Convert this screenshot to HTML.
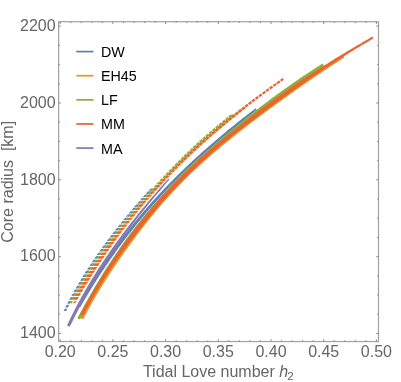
<!DOCTYPE html>
<html><head><meta charset="utf-8"><title>plot</title>
<style>html,body{margin:0;padding:0;background:#fff}svg{display:block;will-change:transform}text{font-family:"Liberation Sans",sans-serif}</style>
</head><body>
<svg width="401" height="382" viewBox="0 0 401 382">
<rect x="0" y="0" width="401" height="382" fill="#ffffff"/>
<path d="M63.46 311.12L63.54 310.95L64.06 309.91L64.58 308.88L64.62 308.80L67.27 308.65L67.15 308.89L66.63 309.92L66.11 310.96L66.10 310.98ZM65.24 307.57L65.31 307.43L65.84 306.39L66.37 305.36L66.60 304.91L69.27 304.77L69.04 305.20L68.51 306.22L67.98 307.25L67.89 307.42ZM67.23 303.69L67.33 303.51L67.87 302.48L68.41 301.45L68.62 301.05L71.31 300.90L71.09 301.31L70.55 302.33L70.01 303.35L69.91 303.54ZM69.27 299.84L69.28 299.82L69.83 298.80L70.38 297.78L70.69 297.21L73.40 297.05L73.18 297.46L72.62 298.47L72.07 299.49L71.97 299.69ZM71.35 296.00L71.38 295.95L71.94 294.93L72.50 293.92L72.80 293.39L75.53 293.23L75.19 293.83L74.63 294.84L74.07 295.84L74.06 295.85ZM73.47 292.19L73.52 292.10L74.10 291.09L74.67 290.08L74.95 289.58L77.70 289.42L77.36 290.01L76.78 291.01L76.21 292.02L76.21 292.03ZM75.64 288.39L75.71 288.27L76.29 287.26L76.88 286.26L77.15 285.79L79.91 285.63L79.57 286.21L78.99 287.21L78.40 288.21L78.39 288.22ZM77.85 284.60L77.94 284.45L78.53 283.45L79.13 282.45L79.38 282.03L82.17 281.86L81.82 282.43L81.22 283.42L80.63 284.42L80.62 284.44ZM80.09 280.84L80.20 280.66L80.81 279.66L81.41 278.67L81.65 278.28L84.46 278.11L84.11 278.67L83.50 279.66L82.90 280.65L82.88 280.67ZM82.37 277.11L82.39 277.09L83.00 276.10L83.61 275.11L83.96 274.55L86.79 274.38L86.43 274.94L85.82 275.92L85.20 276.90L85.19 276.93ZM84.69 273.39L84.72 273.34L85.34 272.35L85.97 271.37L86.30 270.85L89.15 270.67L88.79 271.23L88.17 272.20L87.54 273.18L87.52 273.21ZM87.04 269.69L87.10 269.61L87.73 268.63L88.36 267.66L88.68 267.17L91.55 266.98L91.18 267.54L90.55 268.51L89.92 269.48L89.90 269.51ZM89.43 266.01L89.50 265.90L90.14 264.93L90.78 263.96L91.09 263.50L93.98 263.32L93.61 263.87L92.97 264.83L92.33 265.80L92.31 265.83ZM91.85 262.36L91.94 262.22L92.59 261.26L93.24 260.29L93.53 259.86L96.44 259.67L96.07 260.23L95.42 261.18L94.77 262.14L94.75 262.17ZM94.30 258.73L94.42 258.56L95.07 257.61L95.73 256.65L96.01 256.24L98.94 256.05L98.55 256.60L97.90 257.55L97.24 258.51L97.22 258.53ZM96.79 255.12L96.92 254.93L97.58 253.98L98.25 253.03L98.51 252.65L101.47 252.45L101.07 253.01L100.41 253.95L99.74 254.90L99.73 254.92ZM99.30 251.53L99.31 251.51L99.98 250.56L100.66 249.62L101.05 249.07L104.02 248.87L103.62 249.43L102.94 250.37L102.27 251.31L102.26 251.33ZM101.84 247.96L101.87 247.92L102.55 246.98L103.23 246.04L103.61 245.52L106.61 245.31L106.19 245.88L105.51 246.81L104.83 247.75L104.83 247.75ZM104.42 244.41L104.46 244.35L105.15 243.41L105.83 242.48L106.20 241.99L109.22 241.78L108.80 242.34L108.11 243.27L107.42 244.20L107.42 244.20ZM107.01 240.89L107.08 240.80L107.77 239.87L108.47 238.94L108.82 238.48L111.86 238.26L111.57 238.65L110.87 239.57L110.18 240.49L110.04 240.68ZM109.64 237.38L109.72 237.28L110.42 236.35L111.12 235.43L111.46 234.99L114.52 234.77L114.23 235.16L113.52 236.07L112.82 236.99L112.69 237.17ZM112.29 233.90L112.39 233.77L113.10 232.85L113.80 231.94L114.13 231.52L117.21 231.30L116.91 231.69L116.20 232.60L115.49 233.51L115.36 233.69ZM114.96 230.44L115.08 230.29L115.80 229.38L116.51 228.47L116.82 228.08L119.93 227.85L119.61 228.25L118.90 229.15L118.19 230.06L118.06 230.22ZM117.66 227.01L117.80 226.83L118.52 225.93L119.24 225.02L119.53 224.65L122.66 224.43L122.33 224.83L121.62 225.73L120.90 226.62L120.78 226.78ZM120.38 223.59L120.39 223.58L121.11 222.69L121.83 221.79L122.27 221.25L125.42 221.02L125.07 221.46L124.35 222.34L123.63 223.23L123.52 223.36ZM123.12 220.20L123.13 220.19L123.85 219.30L124.58 218.42L125.03 217.87L128.20 217.64L127.81 218.11L127.09 218.99L126.37 219.87L126.28 219.97ZM125.88 216.84L125.89 216.83L126.61 215.95L127.34 215.07L127.82 214.50L131.01 214.27L130.57 214.79L129.84 215.66L129.12 216.54L129.06 216.60ZM128.65 213.50L128.66 213.50L129.39 212.63L130.12 211.75L130.62 211.16L133.84 210.92L133.35 211.50L132.61 212.36L131.88 213.23L131.86 213.26ZM131.45 210.18L131.59 210.02L132.32 209.15L133.06 208.29L133.45 207.84L136.69 207.59L136.29 208.06L135.55 208.92L134.81 209.78L134.68 209.94ZM134.27 206.88L134.39 206.73L135.14 205.87L135.88 205.00L136.29 204.53L139.55 204.29L139.13 204.77L138.38 205.64L137.63 206.51L137.50 206.65ZM137.12 203.58L137.24 203.44L138.00 202.57L138.76 201.70L139.18 201.22L142.40 201.05L141.87 201.64L141.11 202.52L140.34 203.39L140.33 203.40ZM140.02 200.27L140.15 200.12L140.92 199.25L141.69 198.37L142.11 197.91L145.24 197.85L144.81 198.33L144.03 199.20L143.26 200.08L143.14 200.21ZM142.95 196.96L143.10 196.80L143.88 195.92L144.66 195.05L145.07 194.60L148.09 194.68L147.63 195.20L146.84 196.06L146.06 196.94L145.96 197.05ZM145.91 193.67L145.92 193.65L146.71 192.78L147.50 191.91L148.06 191.29L150.94 191.55L150.45 192.09L149.67 192.95L148.88 193.81L148.78 193.92ZM148.89 190.39L148.91 190.36L149.70 189.50L150.49 188.64L150.58 188.54L153.30 188.99L153.27 189.01L152.49 189.86L151.71 190.72L151.60 190.83Z" fill="#5E81B5"/>
<path d="M78.12 306.39L78.23 306.18L79.00 304.78L79.77 303.38L80.54 301.99L81.32 300.59L82.10 299.20L82.88 297.82L83.67 296.43L84.47 295.05L85.26 293.67L86.06 292.29L86.87 290.91L87.67 289.54L88.48 288.17L89.30 286.80L90.12 285.44L90.94 284.07L91.77 282.71L92.60 281.36L93.43 280.00L94.27 278.65L95.11 277.30L95.96 275.96L96.80 274.62L97.66 273.28L98.51 271.94L99.37 270.60L100.24 269.27L101.10 267.94L101.98 266.62L102.85 265.30L103.73 263.98L104.61 262.66L105.50 261.34L106.39 260.03L107.28 258.72L108.18 257.42L109.08 256.11L109.99 254.81L110.89 253.52L111.81 252.22L112.72 250.93L113.64 249.64L114.57 248.36L115.49 247.07L116.42 245.79L117.36 244.52L118.30 243.24L119.24 241.97L120.18 240.70L121.13 239.44L122.09 238.17L123.04 236.91L124.00 235.66L124.96 234.40L125.93 233.15L126.90 231.90L127.88 230.66L128.85 229.42L129.84 228.18L130.82 226.94L131.81 225.71L132.80 224.48L133.80 223.24L134.81 222.00L135.85 220.74L136.89 219.48L137.94 218.22L138.99 216.96L140.03 215.71L141.08 214.48L142.10 213.27L143.13 212.07L144.16 210.87L145.20 209.67L146.24 208.48L147.28 207.29L148.32 206.10L149.37 204.91L150.42 203.73L151.48 202.55L152.53 201.37L153.60 200.20L154.66 199.03L155.73 197.86L156.80 196.69L157.87 195.53L158.95 194.37L160.03 193.21L161.12 192.06L162.21 190.91L163.30 189.76L164.39 188.61L165.49 187.47L166.59 186.33L167.69 185.19L168.80 184.05L169.90 182.92L171.02 181.79L172.13 180.66L173.25 179.54L174.37 178.42L175.49 177.30L176.62 176.18L177.74 175.07L178.88 173.96L180.01 172.85L181.15 171.74L182.29 170.64L183.43 169.54L184.57 168.44L185.72 167.35L186.87 166.25L188.02 165.17L189.17 164.08L190.33 162.99L191.49 161.91L192.65 160.83L193.82 159.76L194.98 158.69L196.15 157.62L197.32 156.55L198.49 155.48L199.66 154.42L200.84 153.36L202.02 152.31L203.19 151.26L204.36 150.23L205.52 149.20L206.68 148.17L207.84 147.16L209.00 146.14L210.15 145.14L211.31 144.13L212.47 143.13L213.63 142.14L214.79 141.14L215.95 140.15L217.11 139.16L218.28 138.17L219.46 137.18L220.64 136.18L221.84 135.18L223.05 134.17L224.26 133.16L225.49 132.15L226.74 131.12L228.00 130.09L229.26 129.05L230.54 128.01L231.82 126.97L233.11 125.94L234.39 124.90L235.68 123.87L236.97 122.84L238.25 121.82L239.53 120.81L240.79 119.81L242.05 118.82L243.29 117.85L244.53 116.89L245.76 115.93L246.98 114.98L248.21 114.03L249.44 113.08L250.67 112.14L251.92 111.19L253.16 110.24L254.41 109.29L255.65 108.35L256.53 109.86L255.40 110.81L254.26 111.77L253.12 112.73L251.97 113.70L250.79 114.69L249.58 115.69L248.37 116.70L247.16 117.71L245.94 118.71L244.72 119.72L243.50 120.73L242.27 121.74L241.04 122.75L239.81 123.77L238.57 124.78L237.33 125.80L236.09 126.82L234.84 127.84L233.60 128.86L232.35 129.88L231.10 130.91L229.85 131.93L228.60 132.96L227.35 133.99L226.09 135.02L224.85 136.05L223.62 137.07L222.41 138.07L221.20 139.07L220.01 140.07L218.82 141.06L217.64 142.05L216.47 143.03L215.30 144.02L214.13 145.01L212.97 145.99L211.80 146.99L210.64 147.98L209.48 148.98L208.31 149.99L207.14 151.00L205.97 152.03L204.80 153.06L203.62 154.10L202.43 155.15L201.25 156.21L200.07 157.27L198.90 158.33L197.73 159.39L196.57 160.45L195.41 161.52L194.25 162.59L193.10 163.66L191.95 164.73L190.80 165.81L189.66 166.89L188.52 167.98L187.38 169.06L186.24 170.15L185.11 171.25L183.98 172.35L182.86 173.45L181.73 174.55L180.61 175.66L179.49 176.77L178.37 177.89L177.26 179.02L176.14 180.15L175.02 181.28L173.90 182.42L172.79 183.57L171.68 184.72L170.57 185.87L169.46 187.02L168.36 188.18L167.26 189.34L166.17 190.51L165.08 191.67L163.99 192.84L162.91 194.00L161.83 195.17L160.76 196.34L159.70 197.51L158.63 198.69L157.57 199.86L156.51 201.04L155.46 202.22L154.41 203.40L153.36 204.59L152.31 205.78L151.27 206.97L150.24 208.16L149.22 209.33L148.22 210.49L147.23 211.64L146.26 212.79L145.28 213.93L144.31 215.08L143.34 216.24L142.37 217.41L141.38 218.59L140.39 219.79L139.38 221.02L138.36 222.26L137.33 223.52L136.30 224.79L135.27 226.07L134.24 227.36L133.22 228.65L132.20 229.94L131.18 231.22L130.18 232.51L129.19 233.78L128.21 235.04L127.25 236.29L126.30 237.54L125.35 238.78L124.40 240.03L123.46 241.28L122.52 242.53L121.59 243.78L120.66 245.04L119.73 246.30L118.81 247.56L117.88 248.82L116.96 250.09L116.05 251.36L115.13 252.63L114.22 253.91L113.31 255.19L112.41 256.48L111.50 257.76L110.60 259.05L109.71 260.35L108.81 261.64L107.92 262.94L107.03 264.25L106.14 265.55L105.26 266.86L104.38 268.17L103.50 269.48L102.63 270.80L101.76 272.11L100.90 273.43L100.04 274.75L99.18 276.08L98.32 277.40L97.47 278.73L96.61 280.07L95.77 281.40L94.92 282.74L94.07 284.09L93.23 285.43L92.39 286.79L91.55 288.15L90.71 289.51L89.88 290.88L89.04 292.26L88.21 293.63L87.39 295.01L86.56 296.38L85.75 297.75L84.96 299.09L84.18 300.42L83.40 301.74L82.64 303.06L81.85 304.43L81.04 305.83L80.25 307.22L80.13 307.42Z" fill="#5E81B5"/>
<path d="M72.68 303.47L72.69 303.46L73.27 302.45L73.84 301.44L74.07 301.05L76.81 300.90L76.67 301.12L76.10 302.13L75.52 303.14L75.42 303.32ZM74.76 299.84L74.77 299.82L75.35 298.82L75.93 297.81L76.28 297.21L79.03 297.05L78.76 297.52L78.18 298.52L77.60 299.52L77.50 299.69ZM76.98 296.01L76.98 296.00L77.56 295.00L78.15 294.00L78.51 293.39L81.27 293.23L80.97 293.73L80.39 294.73L79.80 295.72L79.73 295.85ZM79.21 292.19L79.32 292.00L79.90 291.01L80.49 290.03L80.75 289.58L83.53 289.42L83.18 290.00L82.60 290.98L82.02 291.96L81.98 292.03ZM81.47 288.39L81.54 288.26L82.13 287.27L82.72 286.29L83.02 285.79L85.81 285.63L85.53 286.09L84.94 287.07L84.35 288.04L84.24 288.22ZM83.74 284.61L83.78 284.53L84.38 283.55L84.97 282.58L85.31 282.03L88.11 281.86L87.77 282.40L87.18 283.37L86.59 284.34L86.53 284.44ZM86.03 280.85L86.04 280.83L86.64 279.85L87.24 278.88L87.61 278.28L90.42 278.11L90.04 278.73L89.44 279.69L88.84 280.66L88.83 280.67ZM88.34 277.11L88.44 276.94L89.04 275.98L89.64 275.01L89.93 274.55L92.76 274.38L92.44 274.89L91.84 275.84L91.23 276.80L91.16 276.93ZM90.66 273.39L90.73 273.28L91.34 272.32L91.95 271.36L92.27 270.85L95.11 270.67L94.74 271.26L94.13 272.21L93.52 273.17L93.50 273.21ZM93.01 269.69L93.04 269.64L93.66 268.68L94.27 267.73L94.63 267.17L97.49 266.98L97.18 267.46L96.57 268.41L95.96 269.36L95.86 269.51ZM95.38 266.01L95.38 266.01L96.00 265.06L96.62 264.11L97.01 263.50L99.89 263.32L99.53 263.86L98.91 264.81L98.29 265.75L98.24 265.83ZM97.77 262.36L97.87 262.20L98.49 261.25L99.12 260.30L99.41 259.86L102.30 259.67L101.91 260.26L101.28 261.21L100.66 262.15L100.64 262.17ZM100.17 258.73L100.26 258.59L100.90 257.63L101.54 256.68L101.84 256.24L104.74 256.05L104.46 256.47L103.82 257.41L103.18 258.36L103.07 258.53ZM102.60 255.11L102.70 254.97L103.35 254.02L103.99 253.07L104.28 252.65L107.20 252.45L106.92 252.87L106.27 253.81L105.62 254.76L105.51 254.92ZM105.05 251.52L105.17 251.35L105.82 250.40L106.48 249.45L106.74 249.07L109.69 248.87L109.41 249.27L108.75 250.22L108.09 251.16L107.98 251.33ZM107.52 247.95L107.54 247.94L108.20 246.99L108.86 246.04L109.23 245.52L112.19 245.32L111.92 245.69L111.26 246.63L110.60 247.58L110.47 247.75ZM110.02 244.41L110.06 244.34L110.74 243.39L111.41 242.45L111.74 241.99L114.72 241.78L114.34 242.31L113.67 243.25L112.99 244.19L112.98 244.20ZM112.53 240.88L112.62 240.75L113.30 239.81L113.98 238.87L114.27 238.48L117.27 238.27L116.91 238.75L116.23 239.69L115.56 240.62L115.52 240.68ZM115.07 237.38L115.07 237.37L115.76 236.43L116.44 235.50L116.82 234.99L119.84 234.78L119.51 235.22L118.82 236.15L118.14 237.08L118.07 237.17ZM117.63 233.90L117.68 233.83L118.37 232.90L119.06 231.97L119.40 231.52L122.44 231.31L122.12 231.73L121.43 232.64L120.74 233.56L120.65 233.68ZM120.21 230.44L120.30 230.31L121.00 229.40L121.69 228.48L121.99 228.08L125.05 227.86L124.75 228.25L124.05 229.17L123.36 230.08L123.25 230.22ZM122.81 227.00L122.94 226.83L123.64 225.92L124.35 225.00L124.61 224.65L127.70 224.43L127.41 224.80L126.71 225.71L126.01 226.62L125.88 226.78ZM125.44 223.59L125.47 223.54L126.18 222.63L126.89 221.73L127.26 221.25L130.36 221.03L129.95 221.55L129.24 222.45L128.54 223.35L128.53 223.36ZM128.09 220.20L128.17 220.10L128.88 219.19L129.59 218.29L129.93 217.87L133.05 217.64L132.66 218.14L131.94 219.03L131.23 219.93L131.20 219.97ZM130.75 216.84L130.88 216.67L131.60 215.78L132.32 214.88L132.62 214.50L135.77 214.27L135.38 214.75L134.66 215.64L133.94 216.53L133.89 216.60ZM133.44 213.50L133.47 213.45L134.19 212.57L134.92 211.68L135.34 211.16L138.52 210.92L138.12 211.41L137.39 212.28L136.67 213.16L136.60 213.26ZM136.15 210.18L136.22 210.09L136.95 209.21L137.67 208.33L138.09 207.84L141.28 207.59L140.88 208.07L140.15 208.95L139.42 209.83L139.33 209.94ZM138.88 206.88L139.00 206.74L139.73 205.86L140.48 204.98L140.86 204.53L144.07 204.30L143.70 204.73L142.96 205.61L142.21 206.49L142.08 206.65ZM141.67 203.57L141.67 203.56L142.42 202.68L143.18 201.80L143.67 201.22L146.85 201.05L146.41 201.56L145.66 202.44L144.90 203.32L144.83 203.40ZM144.49 200.27L144.54 200.21L145.30 199.32L146.06 198.44L146.53 197.91L149.64 197.85L149.15 198.41L148.39 199.28L147.63 200.15L147.58 200.21ZM147.35 196.96L147.44 196.87L148.20 196.00L148.97 195.13L149.43 194.60L152.43 194.68L151.89 195.30L151.12 196.16L150.36 197.02L150.34 197.05ZM150.25 193.67L150.34 193.57L151.10 192.71L151.87 191.86L152.37 191.29L155.23 191.55L154.77 192.06L154.01 192.91L153.25 193.76L153.10 193.93ZM153.19 190.39L153.24 190.33L154.00 189.49L154.76 188.65L155.34 188.01L158.05 188.45L157.50 189.05L156.74 189.88L155.99 190.72L155.89 190.83ZM156.14 187.13L156.28 186.98L157.04 186.15L157.80 185.32L158.34 184.74L160.89 185.37L160.23 186.07L159.47 186.90L158.71 187.73L158.68 187.76ZM159.13 183.89L159.18 183.83L159.95 183.00L160.72 182.18L161.36 181.49L163.74 182.31L163.15 182.95L162.38 183.77L161.61 184.59L161.50 184.70ZM162.13 180.67L162.26 180.53L163.04 179.71L163.81 178.89L164.40 178.27L166.62 179.27L165.93 180.00L165.15 180.82L164.38 181.64L164.35 181.67ZM165.15 177.48L165.22 177.41L166.00 176.59L166.79 175.77L167.46 175.08L169.53 176.24L168.90 176.90L168.11 177.71L167.33 178.53L167.22 178.64ZM168.18 174.32L168.21 174.30L169.00 173.48L169.80 172.66L170.53 171.91L172.47 173.22L171.74 173.96L170.95 174.78L170.16 175.59L170.12 175.63ZM171.23 171.20L171.23 171.19L172.04 170.37L172.84 169.56L173.61 168.78L175.43 170.21L174.78 170.87L173.98 171.68L173.18 172.49L173.05 172.62ZM174.29 168.10L174.30 168.09L175.10 167.29L175.89 166.49L176.69 165.70L176.71 165.68L178.43 167.21L177.66 167.98L176.87 168.77L176.07 169.57L176.01 169.63ZM177.36 165.04L177.48 164.91L178.27 164.13L179.06 163.35L179.81 162.61L181.46 164.22L181.44 164.23L180.65 165.01L179.87 165.78L179.08 166.56L179.00 166.64ZM180.44 162.00L180.48 161.96L181.27 161.18L182.07 160.41L182.86 159.63L182.91 159.59L184.51 161.24L184.45 161.30L183.65 162.07L182.86 162.85L182.07 163.62L182.04 163.65ZM183.53 158.99L183.67 158.86L184.48 158.08L185.29 157.29L186.01 156.60L187.59 158.27L186.87 158.97L186.06 159.75L185.25 160.53L185.11 160.66ZM186.63 156.01L186.78 155.87L187.62 155.07L188.46 154.27L189.13 153.64L190.70 155.32L190.03 155.96L189.19 156.75L188.35 157.55L188.20 157.69ZM189.75 153.05L189.80 153.00L190.65 152.21L191.50 151.42L192.27 150.69L193.83 152.38L193.05 153.11L192.21 153.90L191.37 154.69L191.31 154.74ZM192.90 150.11L193.03 149.99L193.88 149.19L194.74 148.40L195.43 147.77L196.98 149.47L196.28 150.11L195.43 150.90L194.58 151.69L194.45 151.81ZM196.06 147.19L196.11 147.14L196.97 146.36L197.82 145.57L198.60 144.86L200.14 146.57L199.36 147.28L198.50 148.06L197.65 148.85L197.60 148.90ZM199.23 144.29L199.36 144.17L200.22 143.40L201.07 142.63L201.80 141.98L203.33 143.69L202.60 144.35L201.75 145.12L200.90 145.89L200.76 146.01ZM202.43 141.40L202.60 141.25L203.45 140.49L204.30 139.74L205.01 139.11L206.53 140.83L206.49 140.87L205.64 141.62L204.80 142.37L203.96 143.13L203.95 143.13ZM205.66 138.53L205.82 138.38L206.68 137.63L207.53 136.88L208.25 136.25L209.75 137.99L209.71 138.03L208.86 138.77L208.01 139.52L207.17 140.27L207.17 140.27ZM208.90 135.68L209.06 135.54L209.92 134.79L210.77 134.05L211.50 133.41L213.00 135.16L212.26 135.80L211.41 136.54L210.56 137.28L210.39 137.43ZM212.15 132.86L212.31 132.71L213.16 131.98L214.02 131.24L214.76 130.60L216.25 132.36L215.50 133.00L214.65 133.73L213.80 134.47L213.63 134.61ZM215.40 130.06L215.56 129.92L216.42 129.19L217.28 128.46L218.03 127.82L219.51 129.58L218.75 130.22L217.90 130.95L217.04 131.68L216.88 131.82ZM218.67 127.28L218.83 127.15L219.69 126.42L220.55 125.69L221.31 125.06L222.78 126.83L222.01 127.47L221.15 128.19L220.30 128.92L220.14 129.05ZM221.95 124.52L222.12 124.38L223.00 123.65L223.88 122.92L224.60 122.32L226.06 124.10L225.34 124.70L224.45 125.43L223.57 126.16L223.41 126.31ZM225.24 121.79L225.31 121.73L226.21 120.99L227.12 120.25L227.90 119.60L229.35 121.39L228.56 122.04L227.66 122.78L226.76 123.52L226.69 123.58ZM228.54 119.08L228.57 119.05L229.49 118.31L230.40 117.57L231.22 116.90L232.66 118.70L231.84 119.37L230.92 120.11L230.01 120.85L229.98 120.88ZM231.86 116.39L231.86 116.38L232.78 115.65L233.69 114.91L234.55 114.23L235.98 116.03L235.12 116.72L234.21 117.45L233.29 118.18L233.29 118.19ZM235.19 113.71L235.33 113.60L236.23 112.88L237.13 112.16L237.89 111.57L239.31 113.37L238.55 113.97L237.65 114.69L236.75 115.41L236.61 115.52ZM238.53 111.06L238.56 111.03L239.45 110.33L240.33 109.64L241.21 108.95L241.24 108.92L242.66 110.73L242.62 110.76L241.75 111.45L240.87 112.14L239.98 112.84L239.95 112.87ZM241.89 108.41L241.91 108.40L242.78 107.72L243.66 107.04L244.38 106.47L245.79 108.29L245.07 108.85L244.20 109.53L243.32 110.21L243.30 110.23Z" fill="#E19C24"/>
<path d="M80.37 317.97L80.47 317.77L81.17 316.37L81.87 314.98L82.59 313.59L83.31 312.20L84.03 310.81L84.76 309.43L85.50 308.05L86.24 306.67L86.99 305.30L87.74 303.92L88.50 302.55L89.26 301.18L90.03 299.82L90.80 298.45L91.58 297.09L92.36 295.73L93.15 294.38L93.94 293.02L94.74 291.67L95.54 290.32L96.35 288.98L97.16 287.64L97.98 286.30L98.80 284.96L99.62 283.62L100.45 282.29L101.28 280.96L102.12 279.63L102.96 278.31L103.80 276.99L104.65 275.67L105.50 274.35L106.36 273.04L107.22 271.73L108.08 270.42L108.95 269.12L109.82 267.81L110.70 266.51L111.58 265.19L112.48 263.88L113.37 262.57L114.27 261.26L115.18 259.95L116.09 258.65L117.00 257.35L117.91 256.06L118.82 254.77L119.72 253.49L120.63 252.22L121.54 250.96L122.46 249.69L123.37 248.43L124.29 247.17L125.21 245.91L126.13 244.66L127.06 243.41L127.99 242.16L128.92 240.92L129.85 239.68L130.78 238.44L131.72 237.20L132.66 235.96L133.61 234.72L134.56 233.49L135.51 232.25L136.47 231.02L137.43 229.78L138.40 228.55L139.36 227.32L140.33 226.10L141.31 224.87L142.28 223.65L143.26 222.43L144.24 221.22L145.22 220.01L146.21 218.80L147.19 217.59L148.18 216.39L149.17 215.20L150.16 214.00L151.16 212.81L152.15 211.62L153.15 210.44L154.16 209.25L155.16 208.07L156.17 206.90L157.18 205.72L158.20 204.55L159.22 203.37L160.24 202.20L161.27 201.03L162.30 199.87L163.34 198.70L164.38 197.54L165.43 196.36L166.49 195.19L167.57 194.00L168.66 192.82L169.75 191.63L170.85 190.43L171.96 189.24L173.08 188.05L174.20 186.87L175.32 185.69L176.44 184.51L177.57 183.34L178.69 182.18L179.81 181.04L180.92 179.90L182.03 178.78L183.13 177.67L184.23 176.57L185.34 175.47L186.45 174.38L187.56 173.29L188.68 172.20L189.80 171.12L190.93 170.04L192.06 168.96L193.19 167.89L194.33 166.82L195.48 165.75L196.63 164.68L197.78 163.62L198.94 162.56L200.10 161.51L201.26 160.45L202.43 159.40L203.60 158.35L204.78 157.31L205.96 156.26L207.15 155.22L208.33 154.18L209.52 153.15L210.72 152.12L211.91 151.09L213.11 150.07L214.30 149.05L215.50 148.03L216.70 147.02L217.88 146.02L219.06 145.04L220.21 144.08L221.36 143.12L222.51 142.18L223.66 141.23L224.82 140.28L226.00 139.32L227.19 138.35L228.41 137.36L229.65 136.37L230.88 135.37L232.12 134.38L233.36 133.39L234.60 132.40L235.85 131.42L237.09 130.44L238.34 129.46L239.58 128.48L240.83 127.51L242.08 126.54L243.32 125.57L244.55 124.62L245.77 123.68L246.99 122.74L248.21 121.80L249.43 120.87L250.65 119.94L251.88 119.01L253.11 118.07L254.34 117.14L255.58 116.20L256.82 115.27L258.06 114.33L259.31 113.40L260.55 112.47L261.80 111.54L263.06 110.60L264.32 109.67L265.58 108.73L266.84 107.80L268.11 106.86L269.38 105.93L270.65 104.99L271.92 104.06L273.20 103.13L274.47 102.19L275.75 101.26L277.03 100.33L278.32 99.40L279.60 98.47L280.88 97.54L282.17 96.61L283.45 95.69L284.73 94.77L286.02 93.85L287.30 92.93L288.58 92.01L289.86 91.10L291.15 90.19L292.43 89.28L293.71 88.37L294.99 87.46L296.28 86.56L297.56 85.66L298.85 84.75L300.13 83.85L301.42 82.95L302.71 82.05L303.99 81.16L305.28 80.26L306.57 79.37L307.87 78.47L309.16 77.58L310.45 76.69L311.74 75.80L313.03 74.92L314.31 74.04L315.60 73.15L316.89 72.28L318.18 71.40L319.47 70.52L320.76 69.65L322.05 68.78L323.33 67.91L324.62 67.04L325.91 66.17L327.19 65.31L328.48 64.45L329.77 63.59L331.05 62.73L332.34 61.88L333.62 61.02L334.90 60.17L336.19 59.32L337.47 58.47L338.75 57.63L340.03 56.79L341.31 55.95L342.58 55.12L344.24 57.64L342.95 58.47L341.67 59.29L340.38 60.13L339.09 60.96L337.80 61.80L336.51 62.64L335.22 63.48L333.93 64.32L332.64 65.17L331.35 66.02L330.06 66.87L328.77 67.72L327.48 68.57L326.19 69.43L324.90 70.29L323.61 71.15L322.32 72.01L321.03 72.88L319.74 73.74L318.45 74.61L317.17 75.49L315.88 76.36L314.59 77.24L313.30 78.11L312.01 79.00L310.72 79.88L309.43 80.76L308.14 81.65L306.86 82.54L305.57 83.43L304.29 84.32L303.00 85.21L301.72 86.10L300.44 87.00L299.16 87.90L297.88 88.79L296.60 89.69L295.32 90.59L294.04 91.50L292.76 92.40L291.49 93.31L290.21 94.22L288.93 95.13L287.65 96.04L286.37 96.96L285.09 97.88L283.82 98.80L282.54 99.72L281.25 100.65L279.98 101.57L278.70 102.50L277.42 103.43L276.14 104.36L274.87 105.29L273.60 106.22L272.33 107.16L271.06 108.09L269.79 109.02L268.53 109.95L267.26 110.89L266.00 111.82L264.75 112.75L263.49 113.69L262.24 114.62L261.00 115.55L259.75 116.48L258.51 117.41L257.27 118.35L256.04 119.28L254.80 120.21L253.58 121.14L252.36 122.07L251.14 123.00L249.92 123.93L248.70 124.86L247.48 125.80L246.26 126.74L245.03 127.69L243.80 128.64L242.56 129.61L241.31 130.58L240.07 131.56L238.82 132.53L237.58 133.51L236.34 134.49L235.10 135.47L233.86 136.46L232.63 137.44L231.40 138.43L230.16 139.42L228.95 140.41L227.75 141.37L226.58 142.33L225.43 143.27L224.28 144.22L223.13 145.16L221.98 146.11L220.83 147.07L219.66 148.04L218.48 149.03L217.28 150.04L216.09 151.05L214.89 152.06L213.70 153.08L212.50 154.11L211.31 155.13L210.12 156.16L208.94 157.20L207.75 158.23L206.57 159.27L205.40 160.31L204.22 161.36L203.06 162.41L201.89 163.46L200.73 164.51L199.57 165.56L198.42 166.62L197.27 167.68L196.13 168.75L194.99 169.81L193.85 170.88L192.72 171.96L191.59 173.03L190.47 174.11L189.35 175.20L188.24 176.28L187.13 177.37L186.03 178.47L184.92 179.56L183.82 180.67L182.72 181.78L181.60 182.92L180.48 184.06L179.36 185.21L178.24 186.38L177.12 187.55L176.00 188.73L174.89 189.91L173.77 191.10L172.67 192.29L171.57 193.47L170.48 194.66L169.41 195.84L168.34 197.02L167.28 198.20L166.24 199.37L165.21 200.53L164.18 201.69L163.16 202.85L162.15 204.02L161.14 205.19L160.13 206.36L159.13 207.53L158.14 208.70L157.15 209.87L156.16 211.05L155.18 212.23L154.19 213.41L153.22 214.60L152.24 215.79L151.27 216.99L150.30 218.18L149.33 219.39L148.36 220.59L147.40 221.80L146.44 223.02L145.48 224.23L144.52 225.46L143.57 226.68L142.61 227.91L141.66 229.14L140.72 230.37L139.77 231.60L138.83 232.84L137.90 234.08L136.96 235.32L136.03 236.55L135.11 237.79L134.18 239.04L133.26 240.28L132.35 241.52L131.43 242.76L130.51 244.02L129.60 245.27L128.68 246.53L127.77 247.79L126.86 249.05L125.95 250.32L125.05 251.59L124.14 252.86L123.24 254.13L122.34 255.40L121.45 256.68L120.55 257.96L119.65 259.25L118.75 260.55L117.86 261.84L116.97 263.15L116.08 264.45L115.19 265.76L114.31 267.06L113.44 268.36L112.57 269.66L111.70 270.96L110.85 272.26L109.99 273.56L109.14 274.86L108.29 276.17L107.45 277.48L106.61 278.79L105.77 280.10L104.93 281.42L104.10 282.74L103.28 284.06L102.45 285.38L101.63 286.71L100.82 288.04L100.01 289.37L99.20 290.70L98.40 292.04L97.60 293.38L96.81 294.72L96.02 296.06L95.23 297.41L94.45 298.76L93.68 300.11L92.91 301.46L92.14 302.82L91.38 304.18L90.63 305.54L89.88 306.90L89.13 308.26L88.40 309.63L87.67 310.99L86.94 312.36L86.22 313.73L85.51 315.11L84.80 316.48L84.09 317.86L83.40 319.24L83.30 319.44Z" fill="#E19C24"/>
<path d="M69.15 303.44L69.15 303.44L69.68 302.41L70.23 301.39L70.41 301.05L73.10 300.90L73.01 301.06L72.47 302.07L71.93 303.09L71.82 303.29ZM71.05 299.84L71.10 299.76L71.64 298.75L72.20 297.73L72.48 297.21L75.19 297.05L74.88 297.62L74.32 298.63L73.77 299.64L73.75 299.69ZM73.14 296.01L73.20 295.91L73.76 294.90L74.32 293.89L74.60 293.39L77.34 293.23L77.01 293.81L76.44 294.81L75.88 295.81L75.86 295.85ZM75.28 292.19L75.35 292.08L75.92 291.07L76.49 290.07L76.77 289.58L79.53 289.42L79.19 290.00L78.61 291.00L78.03 292.00L78.02 292.03ZM77.47 288.39L77.54 288.26L78.13 287.26L78.71 286.26L78.99 285.79L81.76 285.63L81.41 286.22L80.82 287.21L80.23 288.21L80.23 288.22ZM79.69 284.61L79.78 284.46L80.38 283.47L80.98 282.47L81.25 282.03L84.04 281.86L83.67 282.46L83.07 283.45L82.48 284.44L82.48 284.44ZM81.96 280.85L82.06 280.69L82.67 279.70L83.28 278.71L83.54 278.28L86.36 278.11L86.10 278.52L85.49 279.51L84.88 280.49L84.77 280.67ZM84.27 277.11L84.38 276.93L85.00 275.95L85.62 274.97L85.88 274.55L88.71 274.38L88.44 274.81L87.82 275.78L87.20 276.76L87.09 276.93ZM86.62 273.39L86.74 273.20L87.36 272.22L87.99 271.25L88.25 270.85L91.11 270.67L90.82 271.11L90.19 272.08L89.56 273.05L89.46 273.21ZM89.00 269.69L89.00 269.69L89.64 268.71L90.27 267.74L90.65 267.16L93.53 266.98L93.23 267.44L92.59 268.40L91.96 269.37L91.86 269.51ZM91.41 266.02L91.43 266.00L92.07 265.03L92.71 264.07L93.09 263.50L95.99 263.32L95.67 263.79L95.03 264.75L94.38 265.71L94.30 265.83ZM93.86 262.36L93.88 262.33L94.53 261.37L95.19 260.41L95.56 259.86L98.49 259.67L98.15 260.16L97.49 261.11L96.84 262.07L96.77 262.17ZM96.34 258.73L96.37 258.69L97.03 257.74L97.69 256.78L98.07 256.24L101.01 256.05L100.65 256.56L99.99 257.50L99.33 258.45L99.27 258.53ZM98.85 255.12L98.88 255.07L99.55 254.12L100.22 253.18L100.60 252.65L103.56 252.45L103.18 252.98L102.51 253.92L101.85 254.86L101.80 254.92ZM101.39 251.53L101.43 251.48L102.10 250.54L102.78 249.59L103.15 249.07L106.14 248.87L105.74 249.42L105.06 250.36L104.39 251.29L104.36 251.33ZM103.96 247.96L104.00 247.90L104.68 246.97L105.36 246.03L105.74 245.52L108.74 245.31L108.32 245.88L107.64 246.81L106.96 247.74L106.95 247.75ZM106.55 244.41L106.59 244.35L107.28 243.42L107.97 242.49L108.34 241.99L111.37 241.78L111.07 242.18L110.38 243.10L109.69 244.03L109.56 244.20ZM109.16 240.89L109.21 240.82L109.91 239.89L110.60 238.97L110.97 238.48L114.02 238.26L113.70 238.68L113.01 239.60L112.31 240.52L112.20 240.68ZM111.80 237.38L111.86 237.31L112.56 236.39L113.26 235.47L113.63 234.99L116.69 234.77L116.35 235.21L115.65 236.12L114.96 237.03L114.85 237.17ZM114.46 233.90L114.52 233.82L115.23 232.91L115.93 231.99L116.30 231.52L119.38 231.30L119.03 231.76L118.32 232.66L117.62 233.57L117.53 233.69ZM117.14 230.44L117.21 230.35L117.92 229.45L118.63 228.54L118.99 228.08L122.10 227.85L121.72 228.33L121.01 229.23L120.30 230.13L120.23 230.22ZM119.83 227.01L119.91 226.91L120.62 226.02L121.33 225.12L121.70 224.65L124.83 224.43L124.41 224.95L123.70 225.83L122.99 226.72L122.95 226.78ZM122.55 223.59L122.61 223.52L123.32 222.63L124.03 221.74L124.43 221.25L127.57 221.02L127.10 221.60L126.39 222.48L125.68 223.36L125.68 223.36ZM125.28 220.20L125.31 220.16L126.02 219.28L126.73 218.41L127.17 217.87L130.33 217.64L129.94 218.12L129.23 218.99L128.52 219.86L128.43 219.97ZM128.01 216.84L128.02 216.84L128.73 215.97L129.44 215.10L129.93 214.50L133.12 214.27L132.64 214.84L131.93 215.70L131.22 216.56L131.18 216.60ZM130.77 213.50L130.87 213.37L131.59 212.50L132.31 211.64L132.71 211.16L135.91 210.92L135.50 211.41L134.78 212.27L134.07 213.12L133.95 213.26ZM133.53 210.18L133.60 210.10L134.32 209.24L135.04 208.38L135.50 207.84L138.72 207.59L138.24 208.16L137.51 209.02L136.79 209.87L136.74 209.94ZM136.31 206.88L136.35 206.83L137.08 205.97L137.82 205.10L138.31 204.53L141.53 204.30L141.03 204.88L140.29 205.75L139.56 206.61L139.52 206.65ZM139.12 203.57L139.15 203.54L139.90 202.67L140.65 201.80L141.14 201.22L144.33 201.05L143.88 201.57L143.13 202.44L142.38 203.31L142.30 203.40ZM141.97 200.27L142.01 200.22L142.77 199.34L143.53 198.46L144.01 197.91L147.12 197.85L146.63 198.41L145.86 199.29L145.10 200.17L145.06 200.21ZM144.83 196.96L144.91 196.87L145.68 195.99L146.46 195.11L146.91 194.60L149.90 194.68L149.39 195.25L148.62 196.13L147.85 197.01L147.82 197.05ZM147.73 193.67L147.85 193.53L148.62 192.66L149.40 191.78L149.83 191.29L152.68 191.55L152.17 192.12L151.40 192.99L150.63 193.86L150.57 193.93ZM150.64 190.39L150.64 190.39L151.41 189.52L152.19 188.66L152.77 188.01L155.47 188.45L154.95 189.03L154.18 189.88L153.41 190.74L153.33 190.83ZM153.56 187.13L153.58 187.11L154.35 186.26L155.13 185.40L155.73 184.73L158.27 185.37L157.73 185.96L156.96 186.81L156.18 187.66L156.09 187.76ZM156.50 183.89L156.53 183.87L157.31 183.01L158.09 182.16L158.71 181.49L161.08 182.30L160.53 182.90L159.75 183.75L158.97 184.60L158.87 184.71ZM159.46 180.68L159.50 180.63L160.28 179.79L161.07 178.94L161.70 178.26L163.92 179.26L163.35 179.86L162.57 180.71L161.78 181.55L161.67 181.67ZM162.42 177.49L162.49 177.42L163.28 176.58L164.07 175.74L164.70 175.07L166.77 176.23L166.18 176.85L165.40 177.68L164.61 178.52L164.49 178.65ZM165.40 174.33L165.49 174.23L166.29 173.40L167.08 172.56L167.71 171.90L169.65 173.21L169.03 173.85L168.24 174.68L167.45 175.51L167.33 175.64ZM168.38 171.21L168.52 171.06L169.32 170.23L170.13 169.39L170.73 168.77L172.55 170.20L171.92 170.85L171.11 171.69L170.31 172.52L170.20 172.64ZM171.37 168.11L171.44 168.05L172.25 167.21L173.07 166.37L173.76 165.67L175.48 167.20L174.84 167.85L174.03 168.68L173.22 169.51L173.09 169.64ZM174.37 165.05L174.53 164.89L175.34 164.07L176.14 163.26L176.80 162.60L178.45 164.21L177.74 164.91L176.94 165.72L176.14 166.54L176.02 166.65ZM177.39 162.01L177.42 161.97L178.23 161.17L179.03 160.37L179.83 159.58L181.43 161.23L181.42 161.24L180.62 162.03L179.82 162.83L179.02 163.63L178.99 163.66ZM180.41 159.01L180.48 158.94L181.29 158.14L182.10 157.35L182.87 156.59L184.45 158.26L183.68 159.02L182.87 159.81L182.07 160.60L181.99 160.68ZM183.45 156.02L183.57 155.91L184.39 155.11L185.22 154.31L185.93 153.62L187.50 155.30L186.79 155.98L185.97 156.79L185.15 157.58L185.02 157.71ZM186.51 153.06L186.56 153.01L187.40 152.21L188.24 151.41L189.01 150.68L190.57 152.37L189.80 153.10L188.97 153.90L188.13 154.70L188.07 154.75ZM189.59 150.12L189.74 149.98L190.58 149.19L191.42 148.40L192.10 147.76L193.66 149.45L192.98 150.09L192.14 150.88L191.30 151.67L191.14 151.82ZM192.70 147.20L192.77 147.13L193.62 146.34L194.46 145.56L195.23 144.85L196.77 146.56L196.00 147.26L195.16 148.05L194.32 148.83L194.24 148.91ZM195.83 144.30L195.98 144.15L196.83 143.37L197.68 142.60L198.37 141.97L199.90 143.68L199.21 144.31L198.36 145.09L197.52 145.86L197.36 146.01ZM198.98 141.41L199.03 141.37L199.88 140.60L200.72 139.83L201.54 139.10L203.06 140.82L202.25 141.56L201.40 142.32L200.56 143.08L200.50 143.14ZM202.16 138.54L202.25 138.46L203.09 137.71L203.94 136.95L204.74 136.24L206.25 137.98L205.45 138.68L204.61 139.44L203.76 140.19L203.67 140.28ZM205.37 135.69L205.47 135.59L206.33 134.84L207.18 134.09L207.96 133.41L209.46 135.16L208.68 135.83L207.83 136.58L206.98 137.33L206.87 137.43ZM208.59 132.86L208.72 132.75L209.58 132.00L210.44 131.26L211.20 130.60L212.69 132.36L211.92 133.01L211.07 133.75L210.22 134.49L210.08 134.62ZM211.83 130.06L211.98 129.93L212.84 129.20L213.70 128.46L214.46 127.82L215.93 129.58L215.17 130.23L214.32 130.96L213.46 131.69L213.31 131.82ZM215.09 127.28L215.24 127.15L216.10 126.42L216.97 125.70L217.73 125.06L219.19 126.83L218.43 127.47L217.57 128.19L216.72 128.92L216.56 129.05ZM218.37 124.52L218.51 124.40L219.38 123.69L220.24 122.97L221.02 122.32L222.48 124.10L221.69 124.75L220.84 125.46L219.98 126.18L219.82 126.31ZM221.67 121.79L221.81 121.67L222.69 120.95L223.57 120.23L224.34 119.60L225.78 121.39L225.02 122.02L224.14 122.73L223.27 123.45L223.11 123.58ZM224.99 119.08L225.16 118.94L226.04 118.23L226.92 117.51L227.68 116.91L229.11 118.70L228.36 119.31L227.48 120.02L226.60 120.73L226.43 120.87ZM228.33 116.38L228.34 116.37L229.23 115.66L230.12 114.96L231.02 114.25L231.03 114.23L232.46 116.04L232.45 116.05L231.56 116.76L230.67 117.46L229.78 118.17L229.76 118.18ZM231.70 113.71L231.73 113.68L232.03 113.44L233.46 115.25L233.16 115.49L233.13 115.51Z" fill="#8FB032"/>
<path d="M77.34 318.17L77.45 317.97L78.20 316.56L78.96 315.13L79.73 313.71L80.50 312.28L81.27 310.86L82.04 309.44L82.81 308.03L83.59 306.62L84.36 305.21L85.14 303.81L85.92 302.42L86.70 301.02L87.48 299.64L88.26 298.26L89.04 296.88L89.82 295.51L90.61 294.14L91.40 292.77L92.19 291.41L92.98 290.05L93.77 288.70L94.56 287.36L95.35 286.02L96.15 284.68L96.94 283.35L97.74 282.03L98.54 280.70L99.34 279.38L100.15 278.07L100.96 276.75L101.77 275.43L102.59 274.12L103.41 272.81L104.23 271.49L105.06 270.18L105.90 268.86L106.74 267.54L107.59 266.22L108.44 264.91L109.30 263.59L110.16 262.27L111.02 260.95L111.90 259.63L112.77 258.32L113.65 257.00L114.53 255.69L115.42 254.38L116.31 253.07L117.21 251.77L118.11 250.47L119.01 249.17L119.91 247.87L120.82 246.58L121.73 245.29L122.65 244.00L123.57 242.71L124.49 241.43L125.42 240.14L126.35 238.86L127.29 237.59L128.23 236.31L129.17 235.04L130.12 233.78L131.07 232.51L132.02 231.25L132.98 229.99L133.94 228.73L134.91 227.47L135.88 226.21L136.86 224.96L137.84 223.71L138.82 222.46L139.81 221.22L140.80 219.98L141.80 218.74L142.79 217.51L143.79 216.29L144.79 215.06L145.79 213.85L146.79 212.63L147.80 211.42L148.81 210.22L149.83 209.02L150.85 207.82L151.87 206.62L152.89 205.43L153.92 204.23L154.95 203.05L155.99 201.86L157.03 200.68L158.07 199.50L159.12 198.32L160.17 197.15L161.22 195.98L162.28 194.81L163.35 193.64L164.42 192.47L165.50 191.30L166.58 190.14L167.66 188.97L168.75 187.81L169.85 186.65L170.94 185.50L172.04 184.35L173.15 183.20L174.25 182.05L175.36 180.91L176.47 179.78L177.58 178.65L178.69 177.53L179.80 176.41L180.91 175.30L182.03 174.19L183.14 173.08L184.26 171.98L185.38 170.89L186.51 169.79L187.64 168.70L188.77 167.61L189.90 166.53L191.04 165.44L192.17 164.36L193.31 163.29L194.46 162.21L195.60 161.14L196.75 160.07L197.91 159.00L199.07 157.93L200.24 156.86L201.42 155.79L202.60 154.72L203.78 153.65L204.95 152.59L206.13 151.54L207.29 150.50L208.45 149.47L209.61 148.44L210.77 147.42L211.93 146.40L213.08 145.39L214.24 144.39L215.40 143.38L216.56 142.38L217.72 141.38L218.89 140.38L220.06 139.38L221.24 138.38L222.43 137.37L223.64 136.35L224.86 135.32L226.10 134.28L227.35 133.23L228.61 132.19L229.86 131.15L231.11 130.12L232.37 129.09L233.62 128.06L234.86 127.04L236.11 126.03L237.35 125.02L238.59 124.02L239.81 123.03L241.03 122.05L242.25 121.08L243.46 120.11L244.68 119.14L245.89 118.18L247.11 117.21L248.32 116.26L249.54 115.30L250.76 114.35L251.97 113.40L253.19 112.45L254.41 111.50L255.63 110.55L256.85 109.61L258.07 108.67L259.30 107.73L260.53 106.79L261.76 105.85L263.00 104.90L264.25 103.96L265.50 103.02L266.75 102.07L268.01 101.13L269.27 100.19L270.53 99.25L271.80 98.31L273.08 97.37L274.35 96.43L275.63 95.49L276.92 94.55L278.20 93.62L279.49 92.68L280.78 91.75L282.07 90.83L283.36 89.90L284.65 88.98L285.95 88.05L287.25 87.14L288.55 86.22L289.85 85.31L291.15 84.40L292.45 83.49L293.75 82.59L295.06 81.69L296.36 80.79L297.66 79.90L298.97 79.01L300.27 78.12L301.57 77.24L302.87 76.37L304.17 75.50L305.47 74.63L306.76 73.77L308.05 72.91L309.34 72.06L310.62 71.22L311.90 70.38L313.18 69.55L314.46 68.72L315.74 67.90L317.02 67.07L318.30 66.25L319.58 65.44L320.91 64.59L322.27 63.73L322.47 63.61L324.13 66.11L323.94 66.23L322.58 67.08L321.25 67.93L319.97 68.74L318.70 69.56L317.43 70.38L316.15 71.20L314.88 72.03L313.60 72.86L312.32 73.69L311.04 74.53L309.76 75.38L308.48 76.23L307.19 77.09L305.90 77.95L304.61 78.82L303.31 79.69L302.02 80.56L300.72 81.44L299.42 82.33L298.12 83.22L296.83 84.11L295.53 85.01L294.23 85.91L292.93 86.81L291.64 87.72L290.34 88.63L289.04 89.54L287.75 90.46L286.46 91.37L285.17 92.29L283.88 93.22L282.59 94.14L281.30 95.07L280.02 96.00L278.74 96.94L277.46 97.87L276.18 98.81L274.90 99.75L273.63 100.69L272.36 101.63L271.10 102.57L269.84 103.51L268.58 104.45L267.33 105.39L266.08 106.34L264.84 107.28L263.60 108.22L262.36 109.16L261.13 110.10L259.90 111.05L258.68 111.99L257.46 112.93L256.24 113.88L255.02 114.82L253.81 115.77L252.59 116.72L251.38 117.67L250.17 118.62L248.95 119.58L247.74 120.54L246.53 121.50L245.32 122.46L244.11 123.43L242.89 124.40L241.68 125.38L240.45 126.37L239.22 127.36L237.98 128.37L236.74 129.38L235.50 130.40L234.25 131.42L233.00 132.44L231.75 133.48L230.51 134.51L229.26 135.55L228.01 136.59L226.77 137.63L225.56 138.65L224.35 139.67L223.17 140.67L221.99 141.67L220.83 142.67L219.66 143.67L218.51 144.66L217.35 145.66L216.20 146.66L215.05 147.66L213.90 148.66L212.75 149.67L211.60 150.69L210.44 151.71L209.28 152.74L208.12 153.78L206.96 154.82L205.78 155.88L204.61 156.94L203.43 158.01L202.26 159.08L201.10 160.14L199.94 161.21L198.79 162.28L197.65 163.34L196.50 164.41L195.37 165.48L194.23 166.55L193.10 167.62L191.97 168.70L190.84 169.78L189.71 170.87L188.59 171.95L187.47 173.04L186.35 174.13L185.24 175.23L184.13 176.33L183.02 177.43L181.91 178.54L180.81 179.65L179.70 180.77L178.59 181.90L177.49 183.03L176.39 184.16L175.29 185.30L174.19 186.44L173.09 187.59L172.00 188.74L170.91 189.89L169.83 191.05L168.75 192.21L167.67 193.37L166.60 194.53L165.54 195.69L164.48 196.86L163.42 198.02L162.37 199.19L161.32 200.36L160.28 201.53L159.24 202.70L158.21 203.88L157.18 205.06L156.15 206.24L155.13 207.42L154.11 208.61L153.09 209.80L152.08 211.00L151.07 212.19L150.07 213.40L149.06 214.60L148.06 215.81L147.07 217.02L146.07 218.23L145.08 219.45L144.09 220.68L143.10 221.91L142.12 223.14L141.14 224.38L140.16 225.62L139.18 226.86L138.21 228.11L137.24 229.36L136.28 230.61L135.32 231.86L134.37 233.11L133.42 234.37L132.48 235.63L131.53 236.89L130.60 238.16L129.66 239.42L128.73 240.69L127.81 241.96L126.88 243.24L125.96 244.52L125.05 245.80L124.14 247.08L123.23 248.37L122.33 249.65L121.43 250.94L120.53 252.23L119.64 253.53L118.75 254.82L117.86 256.12L116.98 257.43L116.10 258.73L115.23 260.04L114.36 261.35L113.49 262.65L112.63 263.96L111.78 265.28L110.92 266.59L110.08 267.90L109.23 269.21L108.40 270.52L107.57 271.83L106.74 273.13L105.92 274.44L105.11 275.75L104.29 277.05L103.49 278.36L102.68 279.67L101.88 280.98L101.09 282.29L100.29 283.61L99.50 284.92L98.71 286.25L97.92 287.57L97.13 288.90L96.34 290.24L95.56 291.58L94.77 292.93L93.99 294.28L93.21 295.64L92.43 297.00L91.65 298.36L90.87 299.73L90.09 301.11L89.32 302.48L88.54 303.87L87.77 305.26L87.00 306.65L86.23 308.05L85.46 309.45L84.69 310.85L83.92 312.26L83.16 313.67L82.39 315.09L81.63 316.51L80.87 317.93L80.12 319.33L80.02 319.53Z" fill="#8FB032"/>
<path d="M72.89 299.81L72.95 299.71L73.50 298.70L74.06 297.69L74.31 297.24L78.36 297.01L78.08 297.48L77.49 298.48L76.90 299.48L76.84 299.58ZM74.98 296.05L75.07 295.88L75.64 294.87L76.21 293.87L76.46 293.43L80.65 293.18L80.35 293.68L79.75 294.68L79.16 295.68L79.08 295.81ZM77.14 292.23L77.24 292.06L77.82 291.06L78.40 290.06L78.65 289.62L82.95 289.37L82.60 289.94L82.01 290.93L81.42 291.91L81.37 291.98ZM79.34 288.43L79.45 288.26L80.03 287.26L80.62 286.26L80.87 285.84L85.26 285.58L84.99 286.03L84.39 287.01L83.79 287.99L83.68 288.18ZM81.58 284.66L81.69 284.48L82.28 283.49L82.88 282.50L83.14 282.07L87.59 281.81L87.26 282.34L86.66 283.31L86.06 284.28L85.99 284.39ZM83.86 280.90L83.97 280.72L84.57 279.73L85.18 278.75L85.44 278.33L89.93 278.05L89.55 278.66L88.95 279.63L88.34 280.59L88.32 280.62ZM86.16 277.16L86.28 276.98L86.89 276.00L87.51 275.02L87.77 274.60L92.28 274.33L91.97 274.81L91.37 275.77L90.76 276.73L90.67 276.88ZM88.51 273.44L88.62 273.26L89.24 272.29L89.87 271.31L90.13 270.90L94.65 270.62L94.29 271.18L93.68 272.13L93.07 273.09L93.02 273.16ZM90.88 269.74L91.00 269.57L91.63 268.60L92.26 267.63L92.53 267.22L97.03 266.93L96.74 267.38L96.13 268.33L95.51 269.28L95.40 269.46ZM93.29 266.07L93.40 265.89L94.04 264.93L94.68 263.97L94.96 263.56L99.43 263.27L99.10 263.77L98.48 264.72L97.86 265.67L97.78 265.78ZM95.72 262.41L95.84 262.24L96.48 261.29L97.13 260.33L97.42 259.91L101.85 259.62L101.49 260.17L100.85 261.12L100.23 262.06L100.19 262.12ZM98.19 258.78L98.30 258.61L98.96 257.66L99.61 256.71L99.90 256.29L104.28 256.00L103.90 256.56L103.26 257.51L102.63 258.46L102.61 258.49ZM100.69 255.16L100.79 255.01L101.45 254.07L102.12 253.12L102.42 252.69L106.73 252.41L106.35 252.96L105.71 253.91L105.06 254.85L105.05 254.87ZM103.21 251.57L103.31 251.43L103.98 250.49L104.65 249.55L104.96 249.12L109.21 248.83L108.84 249.36L108.18 250.31L107.53 251.25L107.51 251.28ZM105.76 248.00L105.86 247.87L106.53 246.93L107.21 246.00L107.53 245.56L111.70 245.28L111.34 245.77L110.68 246.72L110.02 247.66L109.98 247.71ZM108.34 244.45L108.43 244.32L109.12 243.40L109.80 242.47L110.13 242.02L114.21 241.74L113.88 242.20L113.21 243.14L112.54 244.08L112.48 244.17ZM110.95 240.92L111.04 240.80L111.72 239.88L112.41 238.96L112.75 238.51L116.74 238.23L116.45 238.64L115.77 239.57L115.09 240.51L115.00 240.64ZM113.57 237.42L113.66 237.30L114.36 236.38L115.05 235.47L115.39 235.02L119.29 234.74L119.03 235.10L118.35 236.03L117.67 236.96L117.54 237.14ZM116.23 233.93L116.31 233.82L117.01 232.91L117.71 232.00L118.06 231.55L121.87 231.28L121.49 231.79L120.80 232.70L120.12 233.62L120.10 233.66ZM118.90 230.47L118.98 230.36L119.69 229.46L120.40 228.56L120.75 228.10L124.46 227.83L124.10 228.31L123.41 229.22L122.72 230.14L122.68 230.20ZM121.60 227.03L121.67 226.94L122.38 226.04L123.09 225.15L123.46 224.67L127.08 224.41L126.75 224.85L126.05 225.76L125.35 226.67L125.28 226.76ZM124.32 223.61L124.36 223.55L125.07 222.67L125.78 221.78L126.20 221.27L129.73 221.01L129.41 221.41L128.71 222.32L128.01 223.22L127.91 223.35ZM127.05 220.21L127.06 220.20L127.77 219.33L128.49 218.45L128.95 217.88L132.40 217.63L132.10 218.00L131.39 218.89L130.68 219.79L130.56 219.96ZM129.80 216.85L129.91 216.71L130.63 215.85L131.34 214.98L131.73 214.51L135.09 214.26L134.67 214.79L133.95 215.68L133.24 216.57L133.22 216.59ZM132.57 213.51L132.64 213.43L133.36 212.56L134.08 211.70L134.53 211.16L137.81 210.92L137.39 211.43L136.67 212.31L135.96 213.19L135.91 213.25ZM135.36 210.18L135.38 210.16L136.10 209.30L136.83 208.44L137.35 207.84L140.56 207.59L140.14 208.10L139.41 208.98L138.69 209.85L138.62 209.94ZM138.17 206.88L138.30 206.72L139.04 205.85L139.79 204.99L140.19 204.53L143.32 204.30L142.94 204.75L142.20 205.63L141.46 206.51L141.35 206.65ZM141.01 203.57L141.14 203.42L141.90 202.55L142.66 201.67L143.06 201.22L146.09 201.05L145.64 201.58L144.89 202.46L144.14 203.34L144.08 203.41ZM143.89 200.27L144.04 200.09L144.81 199.22L145.59 198.34L145.97 197.90L148.86 197.85L148.36 198.42L147.60 199.30L146.85 200.17L146.81 200.21ZM146.80 196.97L146.83 196.93L147.61 196.05L148.40 195.18L148.91 194.60L151.64 194.68L151.09 195.30L150.33 196.16L149.58 197.03L149.56 197.05ZM149.73 193.68L149.80 193.60L150.59 192.73L151.37 191.87L151.87 191.31L154.44 191.54L153.98 192.06L153.22 192.91L152.46 193.76L152.32 193.91ZM152.69 190.41L152.78 190.31L153.56 189.45L154.34 188.60L154.86 188.03L157.26 188.42L156.70 189.04L155.94 189.88L155.19 190.71L155.10 190.81ZM155.66 187.16L155.75 187.06L156.53 186.21L157.32 185.36L157.86 184.77L160.10 185.33L159.43 186.06L158.67 186.89L157.91 187.72L157.90 187.72ZM158.64 183.93L158.73 183.84L159.52 182.99L160.31 182.14L160.87 181.54L162.97 182.26L162.34 182.93L161.57 183.75L160.80 184.57L160.73 184.65ZM161.63 180.73L161.73 180.63L162.52 179.79L163.31 178.95L163.90 178.33L165.86 179.21L165.28 179.81L164.50 180.63L163.73 181.45L163.58 181.61ZM164.64 177.55L164.74 177.44L165.54 176.61L166.33 175.77L166.94 175.14L168.77 176.17L168.10 176.87L167.31 177.69L166.53 178.50L166.46 178.57ZM167.65 174.40L167.76 174.28L168.56 173.45L169.36 172.63L169.98 171.98L171.72 173.15L171.11 173.77L170.31 174.59L169.52 175.40L169.37 175.56ZM170.67 171.27L170.80 171.14L171.60 170.31L172.41 169.48L173.03 168.84L174.69 170.14L174.00 170.84L173.19 171.65L172.39 172.47L172.30 172.55ZM173.70 168.17L173.71 168.16L174.52 167.34L175.32 166.52L176.10 165.74L177.69 167.15L176.90 167.94L176.10 168.73L175.29 169.54L175.27 169.56ZM176.73 165.10L176.75 165.07L177.55 164.28L178.34 163.48L179.13 162.70L179.17 162.66L180.72 164.17L180.71 164.18L179.91 164.96L179.12 165.74L178.33 166.52L178.26 166.59ZM179.78 162.05L179.92 161.91L180.71 161.12L181.50 160.34L182.23 159.62L183.77 161.21L183.73 161.25L182.93 162.02L182.13 162.79L181.34 163.56L181.30 163.61ZM182.84 159.03L182.94 158.93L183.74 158.14L184.55 157.35L185.31 156.61L186.86 158.25L186.82 158.29L186.00 159.07L185.18 159.85L184.37 160.63L184.36 160.64ZM185.91 156.03L186.02 155.93L186.84 155.13L187.67 154.33L188.39 153.63L189.97 155.31L189.17 156.07L188.32 156.86L187.48 157.66L187.46 157.68ZM189.00 153.05L189.17 152.89L190.00 152.10L190.83 151.31L191.50 150.67L193.09 152.40L192.38 153.06L191.53 153.85L190.68 154.64L190.57 154.75ZM192.11 150.09L192.17 150.04L193.00 149.25L193.84 148.47L194.63 147.73L196.24 149.50L195.46 150.21L194.60 151.00L193.75 151.79L193.70 151.83ZM195.24 147.16L195.35 147.05L196.19 146.27L197.04 145.49L197.78 144.81L199.40 146.62L198.73 147.22L197.87 148.01L197.01 148.79L196.85 148.94ZM198.40 144.24L198.55 144.10L199.39 143.33L200.23 142.56L200.94 141.91L202.58 143.75L201.82 144.43L200.97 145.20L200.11 145.98L200.02 146.06ZM201.57 141.34L201.58 141.33L202.42 140.57L203.26 139.82L204.10 139.06L204.13 139.03L205.79 140.90L205.06 141.54L204.22 142.30L203.36 143.06L203.21 143.20ZM204.78 138.46L204.94 138.31L205.78 137.56L206.62 136.81L207.35 136.16L209.01 138.07L208.98 138.09L208.13 138.84L207.28 139.59L206.42 140.34L206.42 140.35ZM208.00 135.59L208.14 135.47L208.98 134.73L209.83 133.99L210.59 133.32L212.25 135.25L212.23 135.27L211.38 136.01L210.52 136.75L209.67 137.50L209.65 137.52ZM211.24 132.76L211.35 132.66L212.20 131.93L213.05 131.20L213.85 130.51L215.50 132.46L215.49 132.47L214.63 133.20L213.77 133.94L212.92 134.68L212.88 134.71ZM214.49 129.96L214.58 129.88L215.43 129.15L216.29 128.42L217.12 127.72L218.76 129.69L218.75 129.69L217.89 130.42L217.03 131.15L216.18 131.88L216.13 131.92ZM217.76 127.18L217.83 127.12L218.69 126.39L219.55 125.67L220.40 124.96L222.03 126.93L222.03 126.94L221.16 127.66L220.30 128.39L219.44 129.11L219.39 129.15ZM221.05 124.42L221.12 124.36L222.00 123.63L222.89 122.90L223.70 122.22L225.32 124.20L224.47 124.90L223.59 125.63L222.72 126.36L222.67 126.41ZM224.35 121.69L224.50 121.57L225.40 120.84L226.30 120.10L227.02 119.51L228.62 121.48L227.87 122.09L226.97 122.83L226.08 123.57L225.95 123.68ZM227.67 118.99L227.76 118.91L228.68 118.17L229.60 117.44L230.36 116.83L231.93 118.78L231.14 119.42L230.23 120.16L229.32 120.90L229.25 120.96ZM231.01 116.31L231.07 116.26L231.99 115.53L232.91 114.80L233.71 114.16L235.25 116.10L234.43 116.76L233.52 117.50L232.60 118.24L232.56 118.27ZM234.36 113.64L234.38 113.63L235.29 112.91L236.21 112.20L237.08 111.51L238.59 113.43L237.87 114.01L236.97 114.73L236.06 115.45L235.89 115.58ZM237.74 111.00L237.84 110.92L238.74 110.22L239.64 109.52L240.46 108.88L241.95 110.78L241.07 111.47L240.19 112.17L239.30 112.87L239.24 112.92ZM241.13 108.37L241.25 108.28L242.14 107.59L243.03 106.91L243.87 106.27L245.32 108.14L245.27 108.19L244.40 108.87L243.52 109.55L242.65 110.23L242.60 110.27ZM244.54 105.76L244.62 105.70L245.50 105.02L246.38 104.35L247.26 103.69L247.28 103.67L248.71 105.52L247.87 106.17L247.00 106.84L246.13 107.51L245.98 107.63ZM247.95 103.16L247.97 103.16L248.84 102.49L249.72 101.83L250.60 101.18L250.71 101.09L252.12 102.92L252.01 103.00L251.15 103.65L250.29 104.31L249.42 104.98L249.38 105.01ZM251.38 100.59L251.47 100.52L252.35 99.86L253.23 99.21L254.11 98.56L254.14 98.53L255.54 100.33L255.47 100.38L254.60 101.03L253.74 101.69L252.88 102.34L252.78 102.41ZM254.83 98.02L254.99 97.90L255.88 97.24L256.77 96.59L257.61 95.97L258.98 97.75L258.98 97.75L258.10 98.41L257.22 99.06L256.35 99.72L256.22 99.82ZM258.33 95.43L258.37 95.41L259.26 94.75L260.15 94.10L261.04 93.45L261.12 93.39L262.48 95.16L261.63 95.79L260.75 96.44L259.86 97.10L259.71 97.21ZM261.87 92.84L261.93 92.79L262.83 92.14L263.72 91.49L264.61 90.84L264.66 90.81L266.02 92.57L265.17 93.19L264.29 93.84L263.40 94.49L263.23 94.61ZM265.44 90.24L265.51 90.20L266.40 89.55L267.30 88.90L268.19 88.26L268.24 88.22L269.59 89.98L268.74 90.60L267.85 91.25L266.95 91.89L266.80 92.01ZM269.05 87.64L269.09 87.61L269.99 86.97L270.88 86.33L271.78 85.68L271.85 85.63L273.20 87.40L272.33 88.03L271.43 88.67L270.53 89.31L270.39 89.41ZM272.68 85.04L272.71 85.02L273.67 84.34L274.62 83.65L275.49 83.04L276.84 84.83L276.10 85.35L275.13 86.03L274.17 86.71L274.02 86.82ZM276.33 82.44L276.35 82.43L277.31 81.75L278.27 81.07L279.15 80.45L280.51 82.26L279.78 82.77L278.81 83.45L277.84 84.13L277.68 84.23ZM280.01 79.84L280.20 79.71L281.16 79.03L282.12 78.35L282.55 78.05L283.93 79.89L283.50 80.19L282.51 80.87L281.54 81.55L281.37 81.66Z" fill="#EB6235"/>
<path d="M80.22 314.49L80.33 314.29L81.08 312.89L81.84 311.48L82.60 310.07L83.36 308.66L84.13 307.26L84.90 305.86L85.67 304.47L86.44 303.08L87.22 301.69L87.99 300.30L88.77 298.92L89.55 297.54L90.34 296.17L91.12 294.80L91.91 293.43L92.70 292.07L93.49 290.71L94.29 289.36L95.08 288.02L95.88 286.67L96.67 285.34L97.47 284.01L98.27 282.68L99.07 281.35L99.88 280.03L100.69 278.71L101.50 277.39L102.32 276.08L103.14 274.76L103.96 273.45L104.79 272.13L105.63 270.81L106.47 269.50L107.31 268.18L108.17 266.86L109.02 265.54L109.88 264.22L110.75 262.90L111.62 261.58L112.49 260.27L113.37 258.96L114.25 257.64L115.13 256.33L116.02 255.03L116.91 253.72L117.81 252.42L118.70 251.12L119.61 249.82L120.51 248.53L121.42 247.24L122.33 245.95L123.24 244.66L124.17 243.38L125.09 242.09L126.02 240.81L126.95 239.53L127.88 238.26L128.82 236.99L129.76 235.72L130.70 234.45L131.65 233.19L132.60 231.92L133.55 230.67L134.51 229.41L135.48 228.15L136.44 226.90L137.42 225.65L138.39 224.40L139.37 223.15L140.35 221.90L141.34 220.67L142.32 219.43L143.31 218.20L144.30 216.97L145.30 215.75L146.29 214.54L147.29 213.32L148.29 212.12L149.30 210.91L150.30 209.71L151.31 208.51L152.33 207.32L153.35 206.13L154.37 204.94L155.39 203.76L156.42 202.57L157.45 201.40L158.49 200.22L159.53 199.04L160.58 197.87L161.63 196.70L162.68 195.54L163.74 194.37L164.81 193.20L165.88 192.04L166.96 190.88L168.04 189.71L169.13 188.56L170.22 187.40L171.32 186.24L172.42 185.09L173.52 183.95L174.63 182.81L175.73 181.67L176.85 180.53L177.96 179.41L179.07 178.29L180.19 177.17L181.30 176.06L182.42 174.95L183.54 173.85L184.67 172.75L185.80 171.66L186.93 170.57L188.06 169.48L189.20 168.40L190.34 167.31L191.49 166.24L192.64 165.16L193.79 164.09L194.95 163.02L196.11 161.95L197.27 160.89L198.44 159.83L199.62 158.77L200.80 157.71L201.98 156.66L203.17 155.60L204.36 154.55L205.55 153.51L206.73 152.49L207.90 151.47L209.07 150.46L210.24 149.46L211.41 148.47L212.57 147.48L213.74 146.50L214.90 145.52L216.07 144.54L217.24 143.57L218.42 142.59L219.60 141.62L220.79 140.64L221.99 139.66L223.20 138.68L224.42 137.68L225.65 136.68L226.90 135.68L228.16 134.66L229.42 133.66L230.68 132.65L231.94 131.65L233.20 130.65L234.45 129.66L235.71 128.67L236.97 127.68L238.22 126.69L239.48 125.71L240.73 124.73L241.98 123.76L243.23 122.79L244.48 121.82L245.72 120.86L246.96 119.90L248.20 118.94L249.43 117.99L250.66 117.05L251.89 116.11L253.12 115.17L254.35 114.23L255.58 113.30L256.80 112.37L258.03 111.44L259.26 110.51L260.49 109.58L261.72 108.66L262.96 107.73L264.20 106.80L265.44 105.88L266.69 104.95L267.94 104.02L269.20 103.09L270.46 102.17L271.72 101.24L272.99 100.31L274.27 99.38L275.54 98.46L276.82 97.53L278.11 96.60L279.40 95.68L280.69 94.75L281.98 93.83L283.28 92.91L284.58 91.99L285.89 91.07L287.20 90.15L288.51 89.23L289.82 88.32L291.13 87.41L292.45 86.50L293.76 85.59L295.08 84.69L296.40 83.79L297.72 82.89L299.04 82.00L300.36 81.11L301.67 80.22L302.99 79.34L304.30 78.46L305.61 77.59L306.92 76.72L308.23 75.86L309.53 75.00L310.83 74.15L312.12 73.31L313.41 72.47L314.70 71.63L315.99 70.80L317.28 69.97L318.57 69.14L319.85 68.32L321.14 67.49L322.42 66.68L323.71 65.86L325.00 65.05L326.28 64.24L327.57 63.43L328.86 62.62L330.15 61.82L331.44 61.02L332.74 60.21L334.04 59.41L335.34 58.61L336.64 57.81L337.97 57.00L339.32 56.18L340.66 55.36L342.01 54.54L343.37 53.72L344.73 52.90L346.09 52.08L347.45 51.26L348.82 50.44L350.18 49.63L351.56 48.81L352.93 48.00L354.30 47.18L355.68 46.37L357.05 45.56L358.42 44.75L359.79 43.95L361.15 43.15L362.52 42.35L363.89 41.55L365.26 40.76L366.63 39.96L368.01 39.16L369.38 38.37L370.76 37.57L372.14 36.77L372.54 36.55L373.34 38.55L372.95 38.77L371.60 39.55L370.24 40.33L368.89 41.11L367.55 41.89L366.20 42.68L364.86 43.46L363.53 44.25L362.19 45.04L360.87 45.83L359.54 46.63L358.22 47.42L356.90 48.22L355.57 49.02L354.25 49.83L352.93 50.63L351.61 51.44L350.29 52.26L348.98 53.08L347.66 53.90L346.34 54.72L345.03 55.55L343.71 56.38L342.40 57.21L341.08 58.05L339.77 58.89L338.45 59.73L337.14 60.58L335.82 61.43L334.52 62.28L333.21 63.13L331.90 63.99L330.60 64.84L329.30 65.70L328.00 66.56L326.70 67.42L325.41 68.29L324.11 69.15L322.82 70.02L321.53 70.89L320.24 71.77L318.95 72.64L317.66 73.52L316.37 74.39L315.09 75.27L313.80 76.15L312.52 77.04L311.24 77.92L309.96 78.81L308.67 79.70L307.39 80.59L306.11 81.49L304.84 82.38L303.56 83.27L302.28 84.17L301.01 85.07L299.74 85.97L298.46 86.87L297.19 87.77L295.91 88.67L294.64 89.58L293.37 90.48L292.09 91.39L290.82 92.30L289.54 93.22L288.26 94.13L286.99 95.05L285.71 95.96L284.42 96.88L283.14 97.81L281.86 98.73L280.57 99.66L279.29 100.59L278.00 101.52L276.72 102.45L275.44 103.38L274.15 104.32L272.87 105.25L271.60 106.18L270.32 107.12L269.05 108.05L267.77 108.99L266.50 109.92L265.24 110.86L263.97 111.79L262.72 112.72L261.46 113.66L260.21 114.59L258.96 115.52L257.71 116.46L256.47 117.39L255.22 118.32L253.98 119.26L252.75 120.19L251.52 121.12L250.30 122.05L249.08 122.98L247.86 123.92L246.63 124.86L245.41 125.80L244.17 126.75L242.93 127.71L241.69 128.68L240.44 129.65L239.19 130.63L237.94 131.61L236.70 132.59L235.45 133.57L234.21 134.56L232.97 135.54L231.74 136.53L230.50 137.52L229.27 138.52L228.05 139.50L226.86 140.47L225.69 141.43L224.53 142.38L223.39 143.32L222.24 144.27L221.10 145.22L219.94 146.18L218.78 147.16L217.60 148.15L216.41 149.16L215.22 150.18L214.03 151.19L212.84 152.21L211.66 153.24L210.47 154.27L209.29 155.30L208.12 156.34L206.94 157.38L205.77 158.42L204.61 159.46L203.45 160.51L202.29 161.56L201.14 162.61L199.99 163.66L198.84 164.72L197.70 165.78L196.56 166.84L195.43 167.91L194.30 168.98L193.17 170.05L192.05 171.12L190.93 172.20L189.82 173.28L188.70 174.37L187.59 175.46L186.49 176.55L185.39 177.64L184.29 178.74L183.19 179.84L182.08 180.96L180.96 182.10L179.84 183.24L178.72 184.40L177.60 185.56L176.47 186.74L175.35 187.92L174.22 189.10L173.11 190.29L171.99 191.47L170.89 192.66L169.79 193.85L168.70 195.04L167.62 196.22L166.56 197.39L165.50 198.56L164.46 199.72L163.42 200.89L162.38 202.05L161.36 203.22L160.33 204.38L159.31 205.55L158.30 206.73L157.28 207.90L156.28 209.07L155.27 210.25L154.27 211.43L153.27 212.61L152.28 213.80L151.28 214.99L150.29 216.18L149.31 217.37L148.32 218.57L147.34 219.77L146.36 220.97L145.38 222.18L144.40 223.40L143.43 224.61L142.46 225.83L141.49 227.05L140.52 228.27L139.56 229.50L138.59 230.73L137.64 231.96L136.68 233.19L135.73 234.42L134.78 235.65L133.84 236.89L132.90 238.12L131.96 239.36L131.03 240.59L130.10 241.83L129.17 243.07L128.24 244.32L127.32 245.56L126.39 246.81L125.48 248.07L124.56 249.32L123.64 250.58L122.73 251.84L121.82 253.10L120.92 254.37L120.01 255.64L119.11 256.93L118.20 258.22L117.29 259.51L116.39 260.81L115.49 262.12L114.59 263.42L113.69 264.73L112.80 266.04L111.92 267.35L111.04 268.65L110.18 269.95L109.31 271.25L108.45 272.55L107.60 273.86L106.75 275.17L105.90 276.48L105.05 277.80L104.21 279.11L103.38 280.44L102.54 281.76L101.71 283.08L100.89 284.41L100.07 285.74L99.25 287.08L98.44 288.41L97.63 289.75L96.83 291.09L96.03 292.44L95.24 293.78L94.45 295.13L93.67 296.48L92.89 297.84L92.11 299.19L91.34 300.55L90.58 301.92L89.82 303.28L89.07 304.65L88.32 306.02L87.58 307.39L86.84 308.76L86.11 310.14L85.38 311.52L84.66 312.90L83.94 314.28L83.23 315.67L83.13 315.87Z" fill="#EB6235"/>
<path d="M67.03 325.44L67.13 325.24L67.80 323.80L68.48 322.36L69.16 320.92L69.84 319.50L70.52 318.09L71.21 316.67L71.91 315.26L72.62 313.84L73.33 312.43L74.04 311.01L74.77 309.60L75.49 308.19L76.23 306.78L76.97 305.37L77.72 303.95L78.48 302.53L79.24 301.11L80.01 299.69L80.79 298.28L81.57 296.86L82.36 295.45L83.14 294.05L83.94 292.64L84.74 291.24L85.54 289.84L86.35 288.45L87.16 287.06L87.97 285.67L88.79 284.30L89.60 282.93L90.42 281.57L91.25 280.21L92.07 278.85L92.90 277.50L93.73 276.15L94.57 274.80L95.41 273.46L96.25 272.12L97.10 270.78L97.95 269.45L98.81 268.12L99.66 266.79L100.53 265.47L101.39 264.15L102.26 262.83L103.13 261.51L104.01 260.20L104.89 258.88L105.77 257.57L106.66 256.27L107.55 254.96L108.45 253.65L109.35 252.35L110.26 251.03L111.19 249.71L112.12 248.37L113.07 247.04L114.02 245.70L114.98 244.36L115.94 243.02L116.90 241.68L117.87 240.35L118.84 239.03L119.81 237.71L120.78 236.40L121.74 235.10L122.70 233.82L123.65 232.55L124.60 231.29L125.54 230.04L126.50 228.79L127.45 227.54L128.40 226.30L129.36 225.06L130.31 223.83L131.27 222.60L132.23 221.37L133.20 220.14L134.16 218.92L135.13 217.70L136.10 216.48L137.08 215.26L138.07 214.03L139.06 212.81L140.05 211.58L141.05 210.35L142.06 209.12L143.07 207.89L144.08 206.67L145.10 205.44L146.12 204.21L147.14 202.99L148.17 201.77L149.19 200.55L150.23 199.32L151.28 198.09L152.33 196.86L153.38 195.63L154.44 194.40L155.50 193.18L156.55 191.95L157.61 190.74L158.67 189.53L159.73 188.32L160.79 187.11L161.86 185.91L162.92 184.71L163.99 183.51L165.06 182.32L166.13 181.12L167.20 179.94L168.27 178.75L168.42 178.58L169.29 179.52L169.15 179.69L168.17 180.89L167.17 182.10L166.17 183.30L165.16 184.52L164.15 185.74L163.12 186.96L162.10 188.18L161.06 189.41L160.03 190.64L158.99 191.88L157.95 193.11L156.90 194.35L155.85 195.60L154.80 196.84L153.75 198.09L152.71 199.33L151.67 200.57L150.63 201.81L149.61 203.03L148.59 204.26L147.58 205.49L146.56 206.72L145.55 207.95L144.55 209.19L143.55 210.42L142.56 211.66L141.57 212.89L140.59 214.13L139.62 215.36L138.66 216.59L137.70 217.82L136.76 219.05L135.81 220.28L134.87 221.51L133.93 222.75L133.00 223.99L132.07 225.24L131.14 226.49L130.21 227.75L129.28 229.01L128.36 230.27L127.43 231.53L126.51 232.81L125.59 234.08L124.67 235.37L123.74 236.67L122.81 237.98L121.87 239.31L120.93 240.64L119.98 241.98L119.04 243.32L118.10 244.67L117.16 246.02L116.22 247.37L115.29 248.71L114.37 250.05L113.45 251.38L112.54 252.71L111.64 254.02L110.75 255.32L109.87 256.62L108.99 257.92L108.11 259.22L107.23 260.52L106.36 261.82L105.49 263.13L104.62 264.43L103.76 265.74L102.90 267.05L102.04 268.36L101.18 269.68L100.33 271.00L99.48 272.32L98.64 273.65L97.80 274.97L96.96 276.31L96.13 277.64L95.31 278.98L94.48 280.32L93.67 281.67L92.85 283.02L92.05 284.38L91.25 285.74L90.45 287.11L89.65 288.50L88.85 289.89L88.06 291.30L87.27 292.71L86.50 294.12L85.73 295.53L84.97 296.93L84.21 298.34L83.46 299.76L82.72 301.17L81.98 302.59L81.24 304.01L80.51 305.42L79.79 306.83L79.07 308.23L78.35 309.63L77.64 311.04L76.93 312.44L76.22 313.85L75.51 315.25L74.80 316.66L74.09 318.07L73.37 319.47L72.66 320.88L71.95 322.28L71.22 323.71L70.49 325.14L69.76 326.57L69.65 326.77Z" fill="#8778B3"/>
<rect x="58.65" y="21.7" width="319.85" height="319.85" fill="none" stroke="#a4a4a4" stroke-width="1.25"/>
<path d="M60.20 341.55v-2.3M60.20 21.7v2.3M70.74 341.55v-1.3M70.74 21.7v1.3M81.28 341.55v-1.3M81.28 21.7v1.3M91.82 341.55v-1.3M91.82 21.7v1.3M102.36 341.55v-1.3M102.36 21.7v1.3M112.90 341.55v-2.3M112.90 21.7v2.3M123.44 341.55v-1.3M123.44 21.7v1.3M133.98 341.55v-1.3M133.98 21.7v1.3M144.52 341.55v-1.3M144.52 21.7v1.3M155.06 341.55v-1.3M155.06 21.7v1.3M165.60 341.55v-2.3M165.60 21.7v2.3M176.14 341.55v-1.3M176.14 21.7v1.3M186.68 341.55v-1.3M186.68 21.7v1.3M197.22 341.55v-1.3M197.22 21.7v1.3M207.76 341.55v-1.3M207.76 21.7v1.3M218.30 341.55v-2.3M218.30 21.7v2.3M228.84 341.55v-1.3M228.84 21.7v1.3M239.38 341.55v-1.3M239.38 21.7v1.3M249.92 341.55v-1.3M249.92 21.7v1.3M260.46 341.55v-1.3M260.46 21.7v1.3M271.00 341.55v-2.3M271.00 21.7v2.3M281.54 341.55v-1.3M281.54 21.7v1.3M292.08 341.55v-1.3M292.08 21.7v1.3M302.62 341.55v-1.3M302.62 21.7v1.3M313.16 341.55v-1.3M313.16 21.7v1.3M323.70 341.55v-2.3M323.70 21.7v2.3M334.24 341.55v-1.3M334.24 21.7v1.3M344.78 341.55v-1.3M344.78 21.7v1.3M355.32 341.55v-1.3M355.32 21.7v1.3M365.86 341.55v-1.3M365.86 21.7v1.3M376.40 341.55v-2.3M376.40 21.7v2.3M58.65 333.50h2.3M378.5 333.50h-2.3M58.65 314.29h1.3M378.5 314.29h-1.3M58.65 295.08h1.3M378.5 295.08h-1.3M58.65 275.87h1.3M378.5 275.87h-1.3M58.65 256.66h2.3M378.5 256.66h-2.3M58.65 237.45h1.3M378.5 237.45h-1.3M58.65 218.24h1.3M378.5 218.24h-1.3M58.65 199.03h1.3M378.5 199.03h-1.3M58.65 179.82h2.3M378.5 179.82h-2.3M58.65 160.62h1.3M378.5 160.62h-1.3M58.65 141.41h1.3M378.5 141.41h-1.3M58.65 122.20h1.3M378.5 122.20h-1.3M58.65 102.99h2.3M378.5 102.99h-2.3M58.65 83.78h1.3M378.5 83.78h-1.3M58.65 64.57h1.3M378.5 64.57h-1.3M58.65 45.36h1.3M378.5 45.36h-1.3M58.65 26.15h2.3M378.5 26.15h-2.3" stroke="#808080" stroke-width="0.9" fill="none"/>
<text x="60.20" y="357.2" font-size="16" fill="#666666" text-anchor="middle">0.20</text>
<text x="112.90" y="357.2" font-size="16" fill="#666666" text-anchor="middle">0.25</text>
<text x="165.60" y="357.2" font-size="16" fill="#666666" text-anchor="middle">0.30</text>
<text x="218.30" y="357.2" font-size="16" fill="#666666" text-anchor="middle">0.35</text>
<text x="271.00" y="357.2" font-size="16" fill="#666666" text-anchor="middle">0.40</text>
<text x="323.70" y="357.2" font-size="16" fill="#666666" text-anchor="middle">0.45</text>
<text x="376.40" y="357.2" font-size="16" fill="#666666" text-anchor="middle">0.50</text>
<text x="55.6" y="338.30" font-size="16" fill="#666666" text-anchor="end">1400</text>
<text x="55.6" y="261.46" font-size="16" fill="#666666" text-anchor="end">1600</text>
<text x="55.6" y="184.62" font-size="16" fill="#666666" text-anchor="end">1800</text>
<text x="55.6" y="107.79" font-size="16" fill="#666666" text-anchor="end">2000</text>
<text x="55.6" y="30.95" font-size="16" fill="#666666" text-anchor="end">2200</text>
<text x="142.9" y="376.7" font-size="16" fill="#666666">Tidal Love number <tspan font-style="italic">h</tspan><tspan font-size="11.6" dx="-0.9" dy="2.9">2</tspan></text>
<text transform="translate(12.7,242.7) rotate(-90)" font-size="16" fill="#666666">Core radius &#160;[km]</text>
<path d="M76.3 51.60H93.5" stroke="#5E81B5" stroke-width="1.75" fill="none"/>
<text x="101" y="57.10" font-size="14.3" fill="#000">DW</text>
<path d="M76.3 75.72H93.5" stroke="#E19C24" stroke-width="1.75" fill="none"/>
<text x="101" y="81.22" font-size="14.3" fill="#000">EH45</text>
<path d="M76.3 99.84H93.5" stroke="#8FB032" stroke-width="1.75" fill="none"/>
<text x="101" y="105.34" font-size="14.3" fill="#000">LF</text>
<path d="M76.3 123.96H93.5" stroke="#EB6235" stroke-width="1.75" fill="none"/>
<text x="101" y="129.46" font-size="14.3" fill="#000">MM</text>
<path d="M76.3 148.08H93.5" stroke="#8778B3" stroke-width="1.75" fill="none"/>
<text x="101" y="153.58" font-size="14.3" fill="#000">MA</text>
</svg></body></html>
